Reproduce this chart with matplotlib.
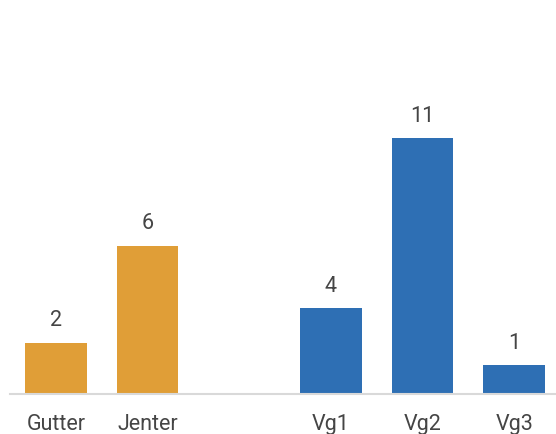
import numpy as np
import matplotlib
matplotlib.use('Agg')
import matplotlib.pyplot as plt

# Data
categories = ["Gutter", "Jenter", "", "Vg1", "Vg2", "Vg3"]
heights = [2.22, 6.39, None, 3.72, 11.0, 1.26]
value_labels = ["2", "6", "", "4", "11", "1"]
orange = "#E09E37"
blue = "#2E6FB4"
colors = [orange, orange, None, blue, blue, blue]

plt.rcParams['font.family'] = ['Roboto', 'DejaVu Sans']

fig = plt.figure(figsize=(5.56, 4.34), dpi=100)
ax = fig.add_axes([10 / 556, 39.7 / 434, 550 / 556, 326 / 434])

x = np.arange(len(categories))
for xi, h, c, lab in zip(x, heights, colors, value_labels):
    if h is None:
        continue
    ax.bar(xi, h, width=0.676, color=c, zorder=2)
    ax.annotate(lab, (xi, h), xytext=(0, 8), textcoords="offset points",
                ha="center", va="bottom", fontsize=15.5, color="#454545")

ax.set_xlim(-0.5, 5.5)
ax.set_ylim(0, 14)
ax.set_xticks(x)
ax.set_xticklabels(categories, fontsize=15.5, color="#454545")
ax.tick_params(axis="x", length=0, pad=14)
ax.set_yticks([])
for s in ["top", "right", "left"]:
    ax.spines[s].set_visible(False)
ax.spines["bottom"].set_color("#D9D9D9")
ax.spines["bottom"].set_linewidth(1.5)

fig.savefig("out.png", dpi=100)
